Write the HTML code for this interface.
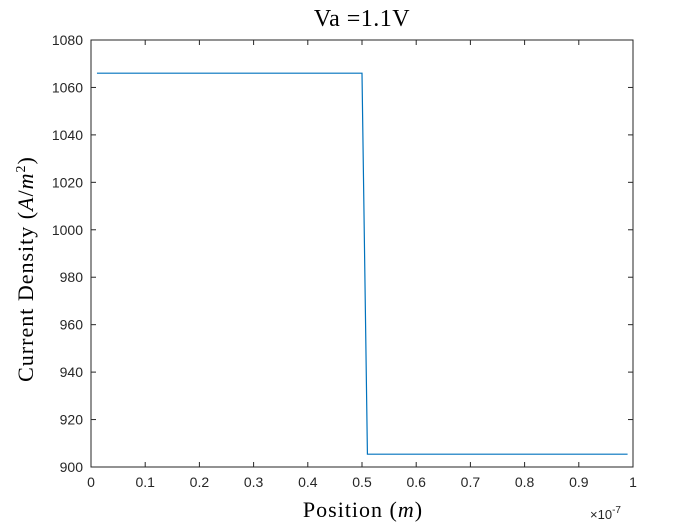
<!DOCTYPE html>
<html><head><meta charset="utf-8"><style>
body{margin:0;background:#fff;}
svg text{font-family:"Liberation Sans",sans-serif;}
</style></head><body>
<svg width="700" height="525" viewBox="0 0 700 525">
<rect x="0" y="0" width="700" height="525" fill="#fff"/>
<g id="plot"></g>
<text x="362" y="26" text-anchor="middle" font-size="24" letter-spacing="0.5" style="font-family:'Liberation Serif',serif">Va =1.1V</text>
<text x="363" y="517" text-anchor="middle" font-size="22" letter-spacing="1" style="font-family:'Liberation Serif',serif">Position (<tspan font-style="italic">m</tspan>)</text>
<text transform="translate(33,269) rotate(-90)" text-anchor="middle" font-size="22" letter-spacing="1" style="font-family:'Liberation Serif',serif">Current Density (<tspan font-style="italic">A</tspan>/<tspan font-style="italic">m</tspan><tspan font-size="14" dy="-8">2</tspan><tspan dy="8">)</tspan></text>
<text x="590" y="519" font-size="13" fill="#262626">×10<tspan font-size="10" dy="-6">-7</tspan></text>
</svg>
<script>
const xTicks=[0,0.1,0.2,0.3,0.4,0.5,0.6,0.7,0.8,0.9,1];
const xTickLabels=["0","0.1","0.2","0.3","0.4","0.5","0.6","0.7","0.8","0.9","1"];
const yTicks=[900,920,940,960,980,1000,1020,1040,1060,1080];
const xVals=[0.011,0.5,0.51,0.99];
const yVals=[1066,1066,905.4,905.4];
const L=91,R=633,T=40,B=467;
const sx=v=>L+(v-0)/(1-0)*(R-L);
const sy=v=>B-(v-900)/(1080-900)*(B-T);
const NS="http://www.w3.org/2000/svg";
const g=document.getElementById('plot');
function mk(tag,attrs){const e=document.createElementNS(NS,tag);for(const k in attrs)e.setAttribute(k,attrs[k]);g.appendChild(e);return e;}
const box=mk('rect',{x:L,y:T,width:R-L,height:B-T,fill:'#fff',stroke:'#262626','stroke-width':1});


xTicks.forEach((t,i)=>{
  const x=sx(t);
  mk('line',{x1:x,x2:x,y1:B,y2:B-5,stroke:'#262626'});
  mk('line',{x1:x,x2:x,y1:T,y2:T+5,stroke:'#262626'});
  const tx=mk('text',{x:x,y:B+20,'text-anchor':'middle','font-size':14,fill:'#262626'});
  tx.textContent=xTickLabels[i];
  
  
});
yTicks.forEach(t=>{
  const y=sy(t);
  mk('line',{x1:L,x2:L+5,y1:y,y2:y,stroke:'#262626'});
  mk('line',{x1:R,x2:R-5,y1:y,y2:y,stroke:'#262626'});
  const tx=mk('text',{x:L-8,y:y+5,'text-anchor':'end','font-size':14,fill:'#262626'});
  tx.textContent=t;
  
  
});
const pts=xVals.map((v,i)=>sx(v)+','+sy(yVals[i])).join(' ');
const line=mk('polyline',{points:pts,fill:'none',stroke:'#0072BD','stroke-width':1.2});


</script>
</body></html>
